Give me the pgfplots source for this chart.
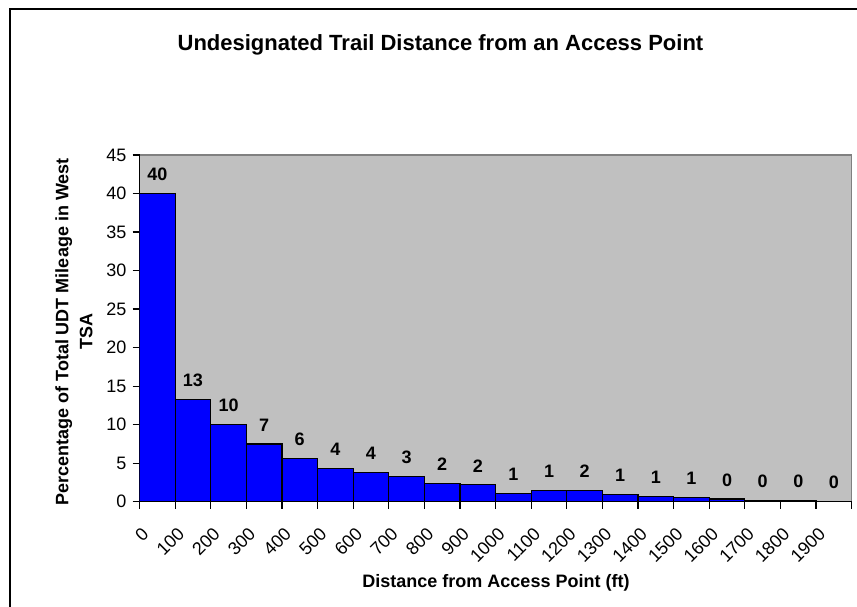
\documentclass[border=0pt]{standalone}
\usepackage{fontspec}
\setmainfont{Liberation Sans}
\usepackage{pgfplots}
\pgfplotsset{compat=1.18}
\definecolor{plotgray}{RGB}{192,192,192}
\definecolor{edgegray}{RGB}{128,128,128}
\begin{document}
\begin{tikzpicture}[x=1pt,y=1pt]
\useasboundingbox (0,0) rectangle (857,607);
\begin{scope}
  \clip (0,0) rectangle (857,607);
  \draw[black, line width=1.5pt] (10,-30) -- (10,598) -- (900,598);
\end{scope}
\begin{axis}[
  at={(139.5pt,105.3pt)}, anchor=south west,
  scale only axis, width=712.2pt, height=346.7pt,
  xmin=0, xmax=2000, ymin=0, ymax=45,
  ybar, bar width=100,
  axis background/.style={fill=plotgray, draw=edgegray, line width=1.5pt},
  axis x line*=bottom, axis y line*=left,
  axis line style={black, line width=1.5pt},
  xtick={0,100,200,300,400,500,600,700,800,900,1000,1100,1200,1300,1400,1500,1600,1700,1800,1900,2000},
  xticklabels={0,100,200,300,400,500,600,700,800,900,1000,1100,1200,1300,1400,1500,1600,1700,1800,1900,},
  ytick={0,5,10,15,20,25,30,35,40,45},
  tick align=outside, major tick length=7pt,
  tick style={black, line width=1.2pt},
  /pgf/number format/assume math mode=true,
  xticklabel style={font=\fontsize{18}{21}\selectfont, inner sep=0pt, anchor=east, xshift=6pt, yshift=-22pt, rotate=45},
  yticklabel style={font=\fontsize{18}{21}\selectfont, inner sep=0pt, anchor=east, xshift=-6pt},
  nodes near coords,
  point meta=explicit symbolic,
  nodes near coords style={font=\bfseries\fontsize{18}{21}\selectfont, anchor=center, yshift=19pt, inner sep=0pt},
]
\addplot[fill=blue, draw=black, line width=1.2pt] coordinates {
  (50,40)[40] (150,13.3)[13] (250,10)[10] (350,7.5)[7] (450,5.65)[6]
  (550,4.36)[4] (650,3.84)[4] (750,3.28)[3] (850,2.37)[2] (950,2.2)[2]
  (1050,1.08)[1] (1150,1.45)[1] (1250,1.5)[2] (1350,0.9)[1] (1450,0.69)[1]
  (1550,0.52)[1] (1650,0.34)[0] (1750,0.15)[0] (1850,0.15)[0] (1950,0)[0]
};
\end{axis}
\node[anchor=base, font=\bfseries\fontsize{22}{26}\selectfont] at (440.5,556.3)
  {Undesignated Trail Distance from an Access Point};
\node[anchor=base, font=\bfseries\fontsize{18}{21}\selectfont] at (496,19)
  {Distance from Access Point (ft)};
\node[rotate=90, align=center, font=\bfseries\fontsize{18}{24}\selectfont] at (74,275)
  {Percentage of Total UDT Mileage in West\\TSA};
\end{tikzpicture}
\end{document}
